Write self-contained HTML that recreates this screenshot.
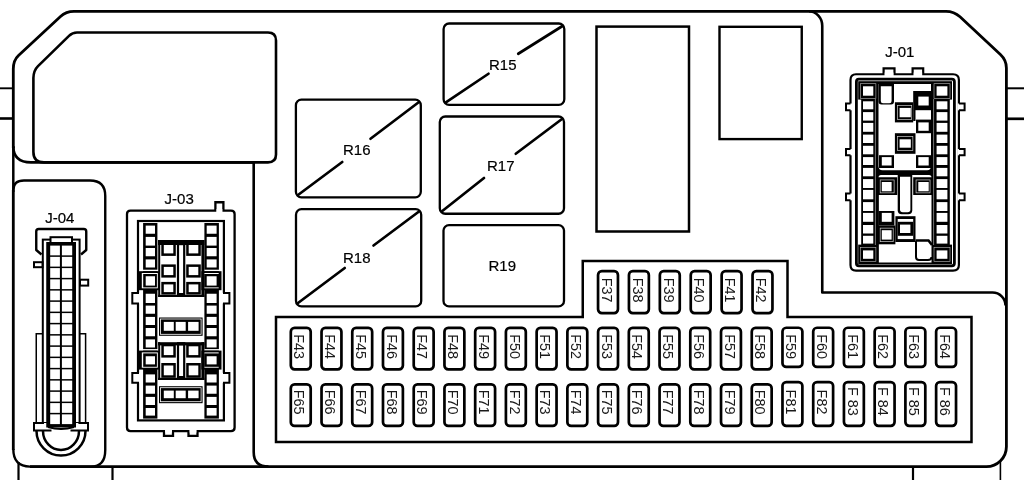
<!DOCTYPE html>
<html>
<head>
<meta charset="utf-8">
<title>Fuse box diagram</title>
<style>
html,body{margin:0;padding:0;background:#fff;}
body{width:1024px;height:480px;overflow:hidden;}
svg{display:block;will-change:transform;}
text{font-family:"Liberation Sans",sans-serif;fill:#000;stroke:#000;stroke-width:0.2px;}
text.f{font-size:15.5px;fill:#1a1a1a;stroke:none;}
</style>
</head>
<body>
<svg width="1024" height="480" viewBox="0 0 1024 480">
<rect x="0" y="0" width="1024" height="480" fill="#fff"/>
<line x1="13.30" y1="147.00" x2="13.30" y2="192.00" stroke="#000" stroke-width="2.5" stroke-linecap="butt"/>
<line x1="13.30" y1="190.00" x2="13.30" y2="450.00" stroke="#000" stroke-width="2.8" stroke-linecap="butt"/>
<path d="M13.3,148 L13.3,69 Q13.3,60.3 18.5,55.5 L60.5,16.4 Q66,11.3 74,11.3 L946,11.3 Q954,11.3 960,16.8 L1000.4,54.6 Q1006.4,60.2 1006.4,68 L1006.4,446.5 A20,20 0 0 1 986.4,466.6 L30,466.6" fill="none" stroke="#000" stroke-width="2.8" stroke-linejoin="round" stroke-linecap="butt"/>
<line x1="0.00" y1="88.30" x2="13.00" y2="88.30" stroke="#000" stroke-width="1.9" stroke-linecap="butt"/>
<line x1="0.00" y1="118.50" x2="13.00" y2="118.50" stroke="#000" stroke-width="2.6" stroke-linecap="butt"/>
<line x1="1006.50" y1="88.30" x2="1024.00" y2="88.30" stroke="#000" stroke-width="2.0" stroke-linecap="butt"/>
<line x1="1006.50" y1="118.80" x2="1024.00" y2="118.80" stroke="#000" stroke-width="2.7" stroke-linecap="butt"/>
<line x1="18.50" y1="462.00" x2="18.50" y2="480.00" stroke="#000" stroke-width="2.2" stroke-linecap="butt"/>
<line x1="112.50" y1="466.00" x2="112.50" y2="480.00" stroke="#000" stroke-width="2.2" stroke-linecap="butt"/>
<line x1="913.00" y1="466.00" x2="913.00" y2="480.00" stroke="#000" stroke-width="2.2" stroke-linecap="butt"/>
<line x1="1000.40" y1="461.00" x2="1000.40" y2="480.00" stroke="#000" stroke-width="1.6" stroke-linecap="butt"/>
<path d="M77,32.5 L268,32.5 Q276,32.5 276,40.5 L276,154.5 Q276,162.4 268,162.4 L44,162.4 Q33.4,162.4 33.4,152 L33.4,78 Q33.6,70.4 38,66.1 L69,35.9 Q72.5,32.5 77,32.5 Z" fill="none" stroke="#000" stroke-width="2.6" stroke-linejoin="round" stroke-linecap="butt"/>
<path d="M13.3,146 Q13.3,162.4 31,162.4 L253.7,162.4 L253.7,452 Q253.7,466.6 268.5,466.6" fill="none" stroke="#000" stroke-width="2.6" stroke-linejoin="round" stroke-linecap="butt"/>
<path d="M13.3,190 Q13.3,180.5 24,180.5 L90,180.5 Q105.25,180.5 105.25,196 L105.25,450 Q105.25,466.6 91,466.6 L30,466.6 Q13.3,466.6 13.3,449" fill="none" stroke="#000" stroke-width="2.4" stroke-linejoin="round" stroke-linecap="butt"/>
<path d="M809,11.3 A13.25,14.5 0 0 1 822.25,25.8 L822.25,292.5 L992.5,292.5 A13,13 0 0 1 1005.5,305.5" fill="none" stroke="#000" stroke-width="2.6" stroke-linejoin="round" stroke-linecap="butt"/>
<rect x="596.50" y="26.60" width="92.50" height="204.90" rx="0" fill="none" stroke="#000" stroke-width="2.5"/>
<rect x="719.50" y="26.80" width="82.25" height="112.30" rx="0" fill="none" stroke="#000" stroke-width="2.4"/>
<rect x="443.60" y="23.50" width="120.70" height="81.30" rx="5.5" fill="none" stroke="#000" stroke-width="2.3"/>
<line x1="445.50" y1="102.60" x2="488.50" y2="73.75" stroke="#000" stroke-width="2.7" stroke-linecap="round"/>
<line x1="518.25" y1="53.75" x2="562.50" y2="26.00" stroke="#000" stroke-width="2.7" stroke-linecap="round"/>
<text x="489.00" y="70.20" font-size="15" text-anchor="start" >R15</text>
<rect x="295.90" y="99.70" width="124.90" height="97.60" rx="5.5" fill="none" stroke="#000" stroke-width="2.3"/>
<line x1="298.00" y1="195.00" x2="342.25" y2="162.00" stroke="#000" stroke-width="2.7" stroke-linecap="round"/>
<line x1="370.50" y1="138.75" x2="419.00" y2="102.00" stroke="#000" stroke-width="2.7" stroke-linecap="round"/>
<text x="343.00" y="154.60" font-size="15" text-anchor="start" >R16</text>
<rect x="439.80" y="116.50" width="124.20" height="97.25" rx="5.5" fill="none" stroke="#000" stroke-width="2.3"/>
<line x1="442.00" y1="211.25" x2="484.00" y2="178.00" stroke="#000" stroke-width="2.7" stroke-linecap="round"/>
<line x1="515.75" y1="153.75" x2="562.00" y2="119.00" stroke="#000" stroke-width="2.7" stroke-linecap="round"/>
<text x="487.00" y="171.30" font-size="15" text-anchor="start" >R17</text>
<rect x="296.00" y="209.20" width="125.20" height="97.20" rx="5.5" fill="none" stroke="#000" stroke-width="2.3"/>
<line x1="298.00" y1="303.00" x2="344.75" y2="268.00" stroke="#000" stroke-width="2.7" stroke-linecap="round"/>
<line x1="373.50" y1="245.50" x2="419.00" y2="211.50" stroke="#000" stroke-width="2.7" stroke-linecap="round"/>
<text x="343.00" y="263.20" font-size="15" text-anchor="start" >R18</text>
<rect x="443.50" y="225.10" width="120.50" height="81.30" rx="5.5" fill="none" stroke="#000" stroke-width="2.3"/>
<text x="488.50" y="271.40" font-size="15" text-anchor="start" >R19</text>
<path d="M276,317 L582.75,317 L582.75,260.9 L787.5,260.9 L787.5,317 L971.5,317 L971.5,442.1 L276,442.1 Z" fill="none" stroke="#000" stroke-width="2.5" stroke-linejoin="miter" stroke-linecap="butt"/>
<rect x="598.05" y="271.10" width="19.90" height="42.05" rx="3.8" fill="none" stroke="#000" stroke-width="2.7"/>
<text class="f" text-anchor="middle" transform="translate(601.70,290.12) rotate(90) scale(0.93,1)">F37</text>
<rect x="628.95" y="271.10" width="19.90" height="42.05" rx="3.8" fill="none" stroke="#000" stroke-width="2.7"/>
<text class="f" text-anchor="middle" transform="translate(632.60,290.12) rotate(90) scale(0.93,1)">F38</text>
<rect x="659.85" y="271.10" width="19.90" height="42.05" rx="3.8" fill="none" stroke="#000" stroke-width="2.7"/>
<text class="f" text-anchor="middle" transform="translate(663.50,290.12) rotate(90) scale(0.93,1)">F39</text>
<rect x="690.75" y="271.10" width="19.90" height="42.05" rx="3.8" fill="none" stroke="#000" stroke-width="2.7"/>
<text class="f" text-anchor="middle" transform="translate(694.40,290.12) rotate(90) scale(0.93,1)">F40</text>
<rect x="721.65" y="271.10" width="19.90" height="42.05" rx="3.8" fill="none" stroke="#000" stroke-width="2.7"/>
<text class="f" text-anchor="middle" transform="translate(725.30,290.12) rotate(90) scale(0.93,1)">F41</text>
<rect x="752.55" y="271.10" width="19.90" height="42.05" rx="3.8" fill="none" stroke="#000" stroke-width="2.7"/>
<text class="f" text-anchor="middle" transform="translate(756.20,290.12) rotate(90) scale(0.93,1)">F42</text>
<rect x="290.80" y="327.95" width="19.90" height="41.45" rx="3.8" fill="none" stroke="#000" stroke-width="2.7"/>
<text class="f" text-anchor="middle" transform="translate(294.45,346.60) rotate(90) scale(0.93,1)">F43</text>
<rect x="321.53" y="327.95" width="19.90" height="41.45" rx="3.8" fill="none" stroke="#000" stroke-width="2.7"/>
<text class="f" text-anchor="middle" transform="translate(325.18,346.60) rotate(90) scale(0.93,1)">F44</text>
<rect x="352.26" y="327.95" width="19.90" height="41.45" rx="3.8" fill="none" stroke="#000" stroke-width="2.7"/>
<text class="f" text-anchor="middle" transform="translate(355.91,346.60) rotate(90) scale(0.93,1)">F45</text>
<rect x="382.99" y="327.95" width="19.90" height="41.45" rx="3.8" fill="none" stroke="#000" stroke-width="2.7"/>
<text class="f" text-anchor="middle" transform="translate(386.64,346.60) rotate(90) scale(0.93,1)">F46</text>
<rect x="413.72" y="327.95" width="19.90" height="41.45" rx="3.8" fill="none" stroke="#000" stroke-width="2.7"/>
<text class="f" text-anchor="middle" transform="translate(417.37,346.60) rotate(90) scale(0.93,1)">F47</text>
<rect x="444.45" y="327.95" width="19.90" height="41.45" rx="3.8" fill="none" stroke="#000" stroke-width="2.7"/>
<text class="f" text-anchor="middle" transform="translate(448.10,346.60) rotate(90) scale(0.93,1)">F48</text>
<rect x="475.18" y="327.95" width="19.90" height="41.45" rx="3.8" fill="none" stroke="#000" stroke-width="2.7"/>
<text class="f" text-anchor="middle" transform="translate(478.83,346.60) rotate(90) scale(0.93,1)">F49</text>
<rect x="505.91" y="327.95" width="19.90" height="41.45" rx="3.8" fill="none" stroke="#000" stroke-width="2.7"/>
<text class="f" text-anchor="middle" transform="translate(509.56,346.60) rotate(90) scale(0.93,1)">F50</text>
<rect x="536.64" y="327.95" width="19.90" height="41.45" rx="3.8" fill="none" stroke="#000" stroke-width="2.7"/>
<text class="f" text-anchor="middle" transform="translate(540.29,346.60) rotate(90) scale(0.93,1)">F51</text>
<rect x="567.37" y="327.95" width="19.90" height="41.45" rx="3.8" fill="none" stroke="#000" stroke-width="2.7"/>
<text class="f" text-anchor="middle" transform="translate(571.02,346.60) rotate(90) scale(0.93,1)">F52</text>
<rect x="598.10" y="327.95" width="19.90" height="41.45" rx="3.8" fill="none" stroke="#000" stroke-width="2.7"/>
<text class="f" text-anchor="middle" transform="translate(601.75,346.60) rotate(90) scale(0.93,1)">F53</text>
<rect x="628.83" y="327.95" width="19.90" height="41.45" rx="3.8" fill="none" stroke="#000" stroke-width="2.7"/>
<text class="f" text-anchor="middle" transform="translate(632.48,346.60) rotate(90) scale(0.93,1)">F54</text>
<rect x="659.56" y="327.95" width="19.90" height="41.45" rx="3.8" fill="none" stroke="#000" stroke-width="2.7"/>
<text class="f" text-anchor="middle" transform="translate(663.21,346.60) rotate(90) scale(0.93,1)">F55</text>
<rect x="690.29" y="327.95" width="19.90" height="41.45" rx="3.8" fill="none" stroke="#000" stroke-width="2.7"/>
<text class="f" text-anchor="middle" transform="translate(693.94,346.60) rotate(90) scale(0.93,1)">F56</text>
<rect x="721.02" y="327.95" width="19.90" height="41.45" rx="3.8" fill="none" stroke="#000" stroke-width="2.7"/>
<text class="f" text-anchor="middle" transform="translate(724.67,346.60) rotate(90) scale(0.93,1)">F57</text>
<rect x="751.75" y="327.95" width="19.90" height="41.45" rx="3.8" fill="none" stroke="#000" stroke-width="2.7"/>
<text class="f" text-anchor="middle" transform="translate(755.40,346.60) rotate(90) scale(0.93,1)">F58</text>
<rect x="782.48" y="327.75" width="19.90" height="39.20" rx="3.8" fill="none" stroke="#000" stroke-width="2.7"/>
<text class="f" text-anchor="middle" transform="translate(786.13,346.60) rotate(90) scale(0.93,1)">F59</text>
<rect x="813.21" y="327.75" width="19.90" height="39.20" rx="3.8" fill="none" stroke="#000" stroke-width="2.7"/>
<text class="f" text-anchor="middle" transform="translate(816.86,346.60) rotate(90) scale(0.93,1)">F60</text>
<rect x="843.94" y="327.75" width="19.90" height="39.20" rx="3.8" fill="none" stroke="#000" stroke-width="2.7"/>
<text class="f" text-anchor="middle" transform="translate(847.59,346.60) rotate(90) scale(0.93,1)">F61</text>
<rect x="874.67" y="327.75" width="19.90" height="39.20" rx="3.8" fill="none" stroke="#000" stroke-width="2.7"/>
<text class="f" text-anchor="middle" transform="translate(878.32,346.60) rotate(90) scale(0.93,1)">F62</text>
<rect x="905.40" y="327.75" width="19.90" height="39.20" rx="3.8" fill="none" stroke="#000" stroke-width="2.7"/>
<text class="f" text-anchor="middle" transform="translate(909.05,346.60) rotate(90) scale(0.93,1)">F63</text>
<rect x="936.13" y="327.75" width="19.90" height="39.20" rx="3.8" fill="none" stroke="#000" stroke-width="2.7"/>
<text class="f" text-anchor="middle" transform="translate(939.78,346.60) rotate(90) scale(0.93,1)">F64</text>
<rect x="290.80" y="384.35" width="19.90" height="41.60" rx="3.8" fill="none" stroke="#000" stroke-width="2.7"/>
<text class="f" text-anchor="middle" transform="translate(294.45,402.20) rotate(90) scale(0.93,1)">F65</text>
<rect x="321.53" y="384.35" width="19.90" height="41.60" rx="3.8" fill="none" stroke="#000" stroke-width="2.7"/>
<text class="f" text-anchor="middle" transform="translate(325.18,402.20) rotate(90) scale(0.93,1)">F66</text>
<rect x="352.26" y="384.35" width="19.90" height="41.60" rx="3.8" fill="none" stroke="#000" stroke-width="2.7"/>
<text class="f" text-anchor="middle" transform="translate(355.91,402.20) rotate(90) scale(0.93,1)">F67</text>
<rect x="382.99" y="384.35" width="19.90" height="41.60" rx="3.8" fill="none" stroke="#000" stroke-width="2.7"/>
<text class="f" text-anchor="middle" transform="translate(386.64,402.20) rotate(90) scale(0.93,1)">F68</text>
<rect x="413.72" y="384.35" width="19.90" height="41.60" rx="3.8" fill="none" stroke="#000" stroke-width="2.7"/>
<text class="f" text-anchor="middle" transform="translate(417.37,402.20) rotate(90) scale(0.93,1)">F69</text>
<rect x="444.45" y="384.35" width="19.90" height="41.60" rx="3.8" fill="none" stroke="#000" stroke-width="2.7"/>
<text class="f" text-anchor="middle" transform="translate(448.10,402.20) rotate(90) scale(0.93,1)">F70</text>
<rect x="475.18" y="384.35" width="19.90" height="41.60" rx="3.8" fill="none" stroke="#000" stroke-width="2.7"/>
<text class="f" text-anchor="middle" transform="translate(478.83,402.20) rotate(90) scale(0.93,1)">F71</text>
<rect x="505.91" y="384.35" width="19.90" height="41.60" rx="3.8" fill="none" stroke="#000" stroke-width="2.7"/>
<text class="f" text-anchor="middle" transform="translate(509.56,402.20) rotate(90) scale(0.93,1)">F72</text>
<rect x="536.64" y="384.35" width="19.90" height="41.60" rx="3.8" fill="none" stroke="#000" stroke-width="2.7"/>
<text class="f" text-anchor="middle" transform="translate(540.29,402.20) rotate(90) scale(0.93,1)">F73</text>
<rect x="567.37" y="384.35" width="19.90" height="41.60" rx="3.8" fill="none" stroke="#000" stroke-width="2.7"/>
<text class="f" text-anchor="middle" transform="translate(571.02,402.20) rotate(90) scale(0.93,1)">F74</text>
<rect x="598.10" y="384.35" width="19.90" height="41.60" rx="3.8" fill="none" stroke="#000" stroke-width="2.7"/>
<text class="f" text-anchor="middle" transform="translate(601.75,402.20) rotate(90) scale(0.93,1)">F75</text>
<rect x="628.83" y="384.35" width="19.90" height="41.60" rx="3.8" fill="none" stroke="#000" stroke-width="2.7"/>
<text class="f" text-anchor="middle" transform="translate(632.48,402.20) rotate(90) scale(0.93,1)">F76</text>
<rect x="659.56" y="384.35" width="19.90" height="41.60" rx="3.8" fill="none" stroke="#000" stroke-width="2.7"/>
<text class="f" text-anchor="middle" transform="translate(663.21,402.20) rotate(90) scale(0.93,1)">F77</text>
<rect x="690.29" y="384.35" width="19.90" height="41.60" rx="3.8" fill="none" stroke="#000" stroke-width="2.7"/>
<text class="f" text-anchor="middle" transform="translate(693.94,402.20) rotate(90) scale(0.93,1)">F78</text>
<rect x="721.02" y="384.35" width="19.90" height="41.60" rx="3.8" fill="none" stroke="#000" stroke-width="2.7"/>
<text class="f" text-anchor="middle" transform="translate(724.67,402.20) rotate(90) scale(0.93,1)">F79</text>
<rect x="751.75" y="384.35" width="19.90" height="41.60" rx="3.8" fill="none" stroke="#000" stroke-width="2.7"/>
<text class="f" text-anchor="middle" transform="translate(755.40,402.20) rotate(90) scale(0.93,1)">F80</text>
<rect x="782.48" y="382.05" width="19.90" height="43.80" rx="3.8" fill="none" stroke="#000" stroke-width="2.7"/>
<text class="f" text-anchor="middle" transform="translate(786.13,402.00) rotate(90) scale(0.93,1)">F81</text>
<rect x="813.21" y="382.05" width="19.90" height="43.80" rx="3.8" fill="none" stroke="#000" stroke-width="2.7"/>
<text class="f" text-anchor="middle" transform="translate(816.86,402.00) rotate(90) scale(0.93,1)">F82</text>
<rect x="843.94" y="382.05" width="19.90" height="43.80" rx="3.8" fill="none" stroke="#000" stroke-width="2.7"/>
<text class="f" text-anchor="middle" transform="translate(847.59,401.40) rotate(90) scale(0.93,1)">F<tspan dx="4.3">83</tspan></text>
<rect x="874.67" y="382.05" width="19.90" height="43.80" rx="3.8" fill="none" stroke="#000" stroke-width="2.7"/>
<text class="f" text-anchor="middle" transform="translate(878.32,401.40) rotate(90) scale(0.93,1)">F<tspan dx="4.3">84</tspan></text>
<rect x="905.40" y="382.05" width="19.90" height="43.80" rx="3.8" fill="none" stroke="#000" stroke-width="2.7"/>
<text class="f" text-anchor="middle" transform="translate(909.05,401.40) rotate(90) scale(0.93,1)">F<tspan dx="4.3">85</tspan></text>
<rect x="936.13" y="382.05" width="19.90" height="43.80" rx="3.8" fill="none" stroke="#000" stroke-width="2.7"/>
<text class="f" text-anchor="middle" transform="translate(939.78,401.40) rotate(90) scale(0.93,1)">F<tspan dx="4.3">86</tspan></text>
<text x="45.20" y="223.20" font-size="15" text-anchor="start" >J-04</text>
<text x="164.60" y="203.80" font-size="15" text-anchor="start" >J-03</text>
<text x="885.20" y="57.00" font-size="15" text-anchor="start" >J-01</text>
<path d="M41.5,254.5 L36.25,250 L36.25,231.5 Q36.25,229 38.75,229 L83.75,229 Q86.25,229 86.25,231.5 L86.25,250 L81,254.5" fill="none" stroke="#000" stroke-width="2.4" stroke-linejoin="round" stroke-linecap="butt"/>
<path d="M42,333.75 L36.25,333.75 L36.25,423" fill="none" stroke="#000" stroke-width="1.5" stroke-linejoin="miter" stroke-linecap="butt"/>
<path d="M80,333.75 L85.6,333.75 L85.6,423" fill="none" stroke="#000" stroke-width="1.5" stroke-linejoin="miter" stroke-linecap="butt"/>
<path d="M36.5,431 A24.5,24.5 0 0 0 85.5,431" fill="none" stroke="#000" stroke-width="2.5" stroke-linejoin="round" stroke-linecap="butt"/>
<path d="M43,431 A18,19 0 0 0 79,431" fill="none" stroke="#000" stroke-width="2.5" stroke-linejoin="round" stroke-linecap="butt"/>
<rect x="34.00" y="423.00" width="54.00" height="7.50" rx="0" fill="#fff" stroke="#000" stroke-width="2"/>
<rect x="51.50" y="426.00" width="19.00" height="6.00" rx="0" fill="#fff"/>
<rect x="42.80" y="239.60" width="36.80" height="183.40" rx="0" fill="#fff" stroke="#000" stroke-width="2"/>
<rect x="44.00" y="423.00" width="34.40" height="1.50" rx="0" fill="#fff"/>
<rect x="50.50" y="237.20" width="21.50" height="5.80" rx="0" fill="#fff" stroke="#000" stroke-width="2"/>
<rect x="34.00" y="262.20" width="8.50" height="5.00" rx="0" fill="#fff" stroke="#000" stroke-width="2"/>
<rect x="80.00" y="279.70" width="8.20" height="5.90" rx="0" fill="#fff" stroke="#000" stroke-width="2"/>
<rect x="46.25" y="242.00" width="29.75" height="185.50" rx="0" fill="#000"/>
<path d="M48,427 Q61,431 74,427" fill="none" stroke="#000" stroke-width="2" stroke-linejoin="round" stroke-linecap="butt"/>
<rect x="50.20" y="245.60" width="9.70" height="9.75" rx="0" fill="#fff"/>
<rect x="61.90" y="245.60" width="10.30" height="9.75" rx="0" fill="#fff"/>
<rect x="50.20" y="256.85" width="9.70" height="9.75" rx="0" fill="#fff"/>
<rect x="61.90" y="256.85" width="10.30" height="9.75" rx="0" fill="#fff"/>
<rect x="50.20" y="268.10" width="9.70" height="9.75" rx="0" fill="#fff"/>
<rect x="61.90" y="268.10" width="10.30" height="9.75" rx="0" fill="#fff"/>
<rect x="50.20" y="279.35" width="9.70" height="9.75" rx="0" fill="#fff"/>
<rect x="61.90" y="279.35" width="10.30" height="9.75" rx="0" fill="#fff"/>
<rect x="50.20" y="290.60" width="9.70" height="9.75" rx="0" fill="#fff"/>
<rect x="61.90" y="290.60" width="10.30" height="9.75" rx="0" fill="#fff"/>
<rect x="50.20" y="301.85" width="9.70" height="9.75" rx="0" fill="#fff"/>
<rect x="61.90" y="301.85" width="10.30" height="9.75" rx="0" fill="#fff"/>
<rect x="50.20" y="313.10" width="9.70" height="9.75" rx="0" fill="#fff"/>
<rect x="61.90" y="313.10" width="10.30" height="9.75" rx="0" fill="#fff"/>
<rect x="50.20" y="324.35" width="9.70" height="9.75" rx="0" fill="#fff"/>
<rect x="61.90" y="324.35" width="10.30" height="9.75" rx="0" fill="#fff"/>
<rect x="50.20" y="335.60" width="9.70" height="9.75" rx="0" fill="#fff"/>
<rect x="61.90" y="335.60" width="10.30" height="9.75" rx="0" fill="#fff"/>
<rect x="50.20" y="346.85" width="9.70" height="9.75" rx="0" fill="#fff"/>
<rect x="61.90" y="346.85" width="10.30" height="9.75" rx="0" fill="#fff"/>
<rect x="50.20" y="358.10" width="9.70" height="9.75" rx="0" fill="#fff"/>
<rect x="61.90" y="358.10" width="10.30" height="9.75" rx="0" fill="#fff"/>
<rect x="50.20" y="369.35" width="9.70" height="9.75" rx="0" fill="#fff"/>
<rect x="61.90" y="369.35" width="10.30" height="9.75" rx="0" fill="#fff"/>
<rect x="50.20" y="380.60" width="9.70" height="9.75" rx="0" fill="#fff"/>
<rect x="61.90" y="380.60" width="10.30" height="9.75" rx="0" fill="#fff"/>
<rect x="50.20" y="391.85" width="9.70" height="9.75" rx="0" fill="#fff"/>
<rect x="61.90" y="391.85" width="10.30" height="9.75" rx="0" fill="#fff"/>
<rect x="50.20" y="403.10" width="9.70" height="9.75" rx="0" fill="#fff"/>
<rect x="61.90" y="403.10" width="10.30" height="9.75" rx="0" fill="#fff"/>
<rect x="50.20" y="414.35" width="9.70" height="9.75" rx="0" fill="#fff"/>
<rect x="61.90" y="414.35" width="10.30" height="9.75" rx="0" fill="#fff"/>
<path d="M127,214 Q127,210.6 130.5,210.6 L215.4,210.6 L215.4,202.25 L223.4,202.25 L223.4,210.6 L231,210.6 Q234.6,210.6 234.6,214 L234.6,427.6 Q234.6,431.2 231,431.2 L197.5,431.2 L197.5,435.8 L188.5,435.8 L188.5,431.2 L173,431.2 L173,435.8 L164,435.8 L164,431.2 L130.5,431.2 Q127,431.2 127,427.6 Z" fill="#fff" stroke="#000" stroke-width="2.3" stroke-linejoin="miter" stroke-linecap="butt"/>
<rect x="216.50" y="209.00" width="5.80" height="3.50" rx="0" fill="#fff"/>
<rect x="165.15" y="429.60" width="6.70" height="3.00" rx="0" fill="#fff"/>
<rect x="189.65" y="429.60" width="6.70" height="3.00" rx="0" fill="#fff"/>
<rect x="138.00" y="221.00" width="85.90" height="199.40" rx="0" fill="none" stroke="#000" stroke-width="2.2"/>
<rect x="133.00" y="292.90" width="7.00" height="10.50" rx="0" fill="#fff"/>
<path d="M139,292.9 L132.3,292.9 L132.3,303.4 L139,303.4" fill="none" stroke="#000" stroke-width="2" stroke-linejoin="miter" stroke-linecap="butt"/>
<rect x="222.00" y="292.90" width="7.00" height="10.50" rx="0" fill="#fff"/>
<path d="M223,292.9 L229.4,292.9 L229.4,303.4 L223,303.4" fill="none" stroke="#000" stroke-width="2" stroke-linejoin="miter" stroke-linecap="butt"/>
<rect x="133.00" y="372.90" width="7.00" height="9.90" rx="0" fill="#fff"/>
<path d="M139,372.9 L132.3,372.9 L132.3,382.8 L139,382.8" fill="none" stroke="#000" stroke-width="2" stroke-linejoin="miter" stroke-linecap="butt"/>
<rect x="222.00" y="372.90" width="7.00" height="9.90" rx="0" fill="#fff"/>
<path d="M223,372.9 L229.4,372.9 L229.4,382.8 L223,382.8" fill="none" stroke="#000" stroke-width="2" stroke-linejoin="miter" stroke-linecap="butt"/>
<rect x="143.10" y="223.00" width="14.30" height="195.60" rx="0" fill="#000"/>
<rect x="141.80" y="269.70" width="17.80" height="1.50" rx="0" fill="#fff"/>
<rect x="137.20" y="271.20" width="22.40" height="19.00" rx="0" fill="#000"/>
<rect x="141.80" y="273.00" width="16.00" height="15.30" rx="0" fill="#fff"/>
<rect x="143.20" y="274.00" width="13.70" height="13.40" rx="0" fill="#000"/>
<rect x="141.80" y="349.10" width="17.80" height="1.50" rx="0" fill="#fff"/>
<rect x="137.20" y="350.60" width="22.40" height="19.00" rx="0" fill="#000"/>
<rect x="141.80" y="352.40" width="16.00" height="15.30" rx="0" fill="#fff"/>
<rect x="143.20" y="353.40" width="13.70" height="13.40" rx="0" fill="#000"/>
<rect x="145.70" y="225.60" width="9.30" height="8.15" rx="0" fill="#fff"/>
<rect x="145.70" y="236.90" width="9.30" height="8.70" rx="0" fill="#fff"/>
<rect x="145.70" y="248.00" width="9.30" height="8.25" rx="0" fill="#fff"/>
<rect x="145.70" y="259.40" width="9.30" height="8.10" rx="0" fill="#fff"/>
<rect x="145.70" y="276.25" width="9.30" height="9.35" rx="0" fill="#fff"/>
<rect x="145.70" y="293.75" width="9.30" height="9.25" rx="0" fill="#fff"/>
<rect x="145.70" y="305.60" width="9.30" height="8.15" rx="0" fill="#fff"/>
<rect x="145.70" y="316.90" width="9.30" height="8.10" rx="0" fill="#fff"/>
<rect x="145.70" y="328.00" width="9.30" height="8.25" rx="0" fill="#fff"/>
<rect x="145.70" y="339.40" width="9.30" height="8.10" rx="0" fill="#fff"/>
<rect x="145.70" y="356.25" width="9.30" height="8.15" rx="0" fill="#fff"/>
<rect x="145.70" y="374.40" width="9.30" height="8.10" rx="0" fill="#fff"/>
<rect x="145.70" y="385.60" width="9.30" height="8.15" rx="0" fill="#fff"/>
<rect x="145.70" y="396.90" width="9.30" height="8.10" rx="0" fill="#fff"/>
<rect x="145.70" y="408.00" width="9.30" height="7.60" rx="0" fill="#fff"/>
<rect x="204.40" y="223.00" width="14.50" height="195.60" rx="0" fill="#000"/>
<rect x="201.40" y="269.70" width="17.80" height="1.50" rx="0" fill="#fff"/>
<rect x="201.40" y="271.20" width="20.10" height="19.00" rx="0" fill="#000"/>
<rect x="203.20" y="273.00" width="15.50" height="15.30" rx="0" fill="#fff"/>
<rect x="204.20" y="274.00" width="15.00" height="13.40" rx="0" fill="#000"/>
<rect x="201.40" y="349.10" width="17.80" height="1.50" rx="0" fill="#fff"/>
<rect x="201.40" y="350.60" width="20.10" height="19.00" rx="0" fill="#000"/>
<rect x="203.20" y="352.40" width="15.50" height="15.30" rx="0" fill="#fff"/>
<rect x="204.20" y="353.40" width="15.00" height="13.40" rx="0" fill="#000"/>
<rect x="206.70" y="225.60" width="9.90" height="8.15" rx="0" fill="#fff"/>
<rect x="206.70" y="236.90" width="9.90" height="8.70" rx="0" fill="#fff"/>
<rect x="206.70" y="248.00" width="9.90" height="8.25" rx="0" fill="#fff"/>
<rect x="206.70" y="259.40" width="9.90" height="8.10" rx="0" fill="#fff"/>
<rect x="206.70" y="276.25" width="9.90" height="9.35" rx="0" fill="#fff"/>
<rect x="206.70" y="293.75" width="9.90" height="9.25" rx="0" fill="#fff"/>
<rect x="206.70" y="305.60" width="9.90" height="8.15" rx="0" fill="#fff"/>
<rect x="206.70" y="316.90" width="9.90" height="8.10" rx="0" fill="#fff"/>
<rect x="206.70" y="328.00" width="9.90" height="8.25" rx="0" fill="#fff"/>
<rect x="206.70" y="339.40" width="9.90" height="8.10" rx="0" fill="#fff"/>
<rect x="206.70" y="356.25" width="9.90" height="8.15" rx="0" fill="#fff"/>
<rect x="206.70" y="374.40" width="9.90" height="8.10" rx="0" fill="#fff"/>
<rect x="206.70" y="385.60" width="9.90" height="8.15" rx="0" fill="#fff"/>
<rect x="206.70" y="396.90" width="9.90" height="8.10" rx="0" fill="#fff"/>
<rect x="206.70" y="408.00" width="9.90" height="7.60" rx="0" fill="#fff"/>
<rect x="158.00" y="240.00" width="46.40" height="5.00" rx="0" fill="#000"/>
<rect x="158.20" y="240.00" width="2.00" height="57.00" rx="0" fill="#000"/>
<rect x="201.40" y="240.00" width="3.00" height="57.00" rx="0" fill="#000"/>
<rect x="158.20" y="294.80" width="46.20" height="2.20" rx="0" fill="#000"/>
<rect x="161.30" y="242.50" width="14.50" height="13.40" rx="0" fill="#000"/>
<rect x="163.80" y="245.00" width="9.50" height="8.40" rx="0" fill="#fff"/>
<rect x="186.20" y="242.50" width="14.60" height="13.40" rx="0" fill="#000"/>
<rect x="188.70" y="245.00" width="9.60" height="8.40" rx="0" fill="#fff"/>
<rect x="161.30" y="264.40" width="14.50" height="13.20" rx="0" fill="#000"/>
<rect x="163.80" y="266.90" width="9.50" height="8.20" rx="0" fill="#fff"/>
<rect x="186.20" y="264.40" width="14.60" height="13.20" rx="0" fill="#000"/>
<rect x="188.70" y="266.90" width="9.60" height="8.20" rx="0" fill="#fff"/>
<rect x="161.30" y="281.90" width="14.50" height="12.70" rx="0" fill="#000"/>
<rect x="163.80" y="284.40" width="9.50" height="7.70" rx="0" fill="#fff"/>
<rect x="186.20" y="281.90" width="14.60" height="12.70" rx="0" fill="#000"/>
<rect x="188.70" y="284.40" width="9.60" height="7.70" rx="0" fill="#fff"/>
<rect x="176.90" y="240.00" width="8.40" height="55.50" rx="0" fill="#000"/>
<rect x="179.10" y="245.20" width="4.00" height="47.80" rx="0" fill="#fff"/>
<rect x="159.00" y="317.50" width="43.60" height="18.30" rx="0" fill="#000"/>
<rect x="160.5" y="319.00" width="40.6" height="15.30" fill="none" stroke="#fff" stroke-width="0.8"/>
<rect x="163.80" y="321.90" width="10.00" height="8.90" rx="0" fill="#fff"/>
<rect x="175.70" y="321.90" width="10.00" height="8.90" rx="0" fill="#fff"/>
<rect x="188.10" y="321.90" width="10.50" height="8.90" rx="0" fill="#fff"/>
<rect x="158.00" y="342.20" width="46.40" height="3.20" rx="0" fill="#000"/>
<rect x="158.20" y="342.20" width="2.00" height="37.80" rx="0" fill="#000"/>
<rect x="201.40" y="342.20" width="3.00" height="37.80" rx="0" fill="#000"/>
<rect x="158.20" y="377.80" width="46.20" height="2.20" rx="0" fill="#000"/>
<rect x="161.30" y="343.80" width="14.50" height="13.80" rx="0" fill="#000"/>
<rect x="163.80" y="346.30" width="9.50" height="8.80" rx="0" fill="#fff"/>
<rect x="186.20" y="343.80" width="14.60" height="13.80" rx="0" fill="#000"/>
<rect x="188.70" y="346.30" width="9.60" height="8.80" rx="0" fill="#fff"/>
<rect x="161.30" y="363.00" width="14.50" height="14.80" rx="0" fill="#000"/>
<rect x="163.80" y="365.50" width="9.50" height="9.80" rx="0" fill="#fff"/>
<rect x="186.20" y="363.00" width="14.60" height="14.80" rx="0" fill="#000"/>
<rect x="188.70" y="365.50" width="9.60" height="9.80" rx="0" fill="#fff"/>
<rect x="176.90" y="342.20" width="8.40" height="36.30" rx="0" fill="#000"/>
<rect x="179.10" y="345.60" width="4.00" height="30.40" rx="0" fill="#fff"/>
<rect x="159.00" y="386.20" width="43.60" height="17.00" rx="0" fill="#000"/>
<rect x="160.5" y="387.70" width="40.6" height="14.00" fill="none" stroke="#fff" stroke-width="0.8"/>
<rect x="163.80" y="390.60" width="10.00" height="7.60" rx="0" fill="#fff"/>
<rect x="175.70" y="390.60" width="10.00" height="7.60" rx="0" fill="#fff"/>
<rect x="188.10" y="390.60" width="10.50" height="7.60" rx="0" fill="#fff"/>
<path d="M850.5,80 Q850.5,74.25 856,74.25 L883.6,74.25 L883.6,68.4 L894.5,68.4 L894.5,74.25 L912.6,74.25 L912.6,68.4 L923.2,68.4 L923.2,74.25 L953,74.25 Q958.9,74.25 958.9,80 L958.9,265 Q958.9,270.6 953,270.6 L856,270.6 Q850.5,270.6 850.5,265 Z" fill="#fff" stroke="#000" stroke-width="2.2" stroke-linejoin="miter" stroke-linecap="butt"/>
<rect x="884.70" y="72.50" width="8.70" height="3.50" rx="0" fill="#fff"/>
<rect x="913.70" y="72.50" width="8.40" height="3.50" rx="0" fill="#fff"/>
<rect x="847.00" y="103.50" width="5.00" height="6.80" rx="0" fill="#fff"/>
<path d="M850.5,103.5 L846,103.5 L846,110.3 L850.5,110.3" fill="none" stroke="#000" stroke-width="2" stroke-linejoin="miter" stroke-linecap="butt"/>
<rect x="957.50" y="103.50" width="6.00" height="6.80" rx="0" fill="#fff"/>
<path d="M958.9,103.5 L964.6,103.5 L964.6,110.3 L958.9,110.3" fill="none" stroke="#000" stroke-width="2" stroke-linejoin="miter" stroke-linecap="butt"/>
<rect x="847.00" y="149.00" width="5.00" height="6.30" rx="0" fill="#fff"/>
<path d="M850.5,149 L846,149 L846,155.3 L850.5,155.3" fill="none" stroke="#000" stroke-width="2" stroke-linejoin="miter" stroke-linecap="butt"/>
<rect x="957.50" y="149.00" width="6.00" height="6.30" rx="0" fill="#fff"/>
<path d="M958.9,149 L964.6,149 L964.6,155.3 L958.9,155.3" fill="none" stroke="#000" stroke-width="2" stroke-linejoin="miter" stroke-linecap="butt"/>
<rect x="847.00" y="193.50" width="5.00" height="6.80" rx="0" fill="#fff"/>
<path d="M850.5,193.5 L846,193.5 L846,200.3 L850.5,200.3" fill="none" stroke="#000" stroke-width="2" stroke-linejoin="miter" stroke-linecap="butt"/>
<rect x="957.50" y="193.50" width="6.00" height="6.80" rx="0" fill="#fff"/>
<path d="M958.9,193.5 L964.6,193.5 L964.6,200.3 L958.9,200.3" fill="none" stroke="#000" stroke-width="2" stroke-linejoin="miter" stroke-linecap="butt"/>
<rect x="856.40" y="79.20" width="98.00" height="186.60" rx="2.5" fill="none" stroke="#000" stroke-width="2.8"/>
<rect x="858.20" y="81.20" width="93.80" height="183.00" rx="0" fill="#000"/>
<rect x="858.00" y="99.60" width="3.20" height="145.00" rx="0" fill="#fff"/>
<rect x="949.80" y="99.60" width="2.60" height="145.00" rx="0" fill="#fff"/>
<rect x="863.00" y="101.30" width="10.30" height="8.00" rx="0" fill="#fff"/>
<rect x="936.60" y="101.30" width="10.80" height="8.00" rx="0" fill="#fff"/>
<rect x="863.00" y="112.10" width="10.30" height="8.50" rx="0" fill="#fff"/>
<rect x="936.60" y="112.10" width="10.80" height="8.50" rx="0" fill="#fff"/>
<rect x="863.00" y="122.90" width="10.30" height="8.90" rx="0" fill="#fff"/>
<rect x="936.60" y="122.90" width="10.80" height="8.90" rx="0" fill="#fff"/>
<rect x="863.00" y="134.60" width="10.30" height="8.40" rx="0" fill="#fff"/>
<rect x="936.60" y="134.60" width="10.80" height="8.40" rx="0" fill="#fff"/>
<rect x="863.00" y="145.80" width="10.30" height="8.50" rx="0" fill="#fff"/>
<rect x="936.60" y="145.80" width="10.80" height="8.50" rx="0" fill="#fff"/>
<rect x="863.00" y="157.10" width="10.30" height="7.90" rx="0" fill="#fff"/>
<rect x="936.60" y="157.10" width="10.80" height="7.90" rx="0" fill="#fff"/>
<rect x="863.00" y="167.90" width="10.30" height="8.40" rx="0" fill="#fff"/>
<rect x="936.60" y="167.90" width="10.80" height="8.40" rx="0" fill="#fff"/>
<rect x="863.00" y="179.10" width="10.30" height="8.90" rx="0" fill="#fff"/>
<rect x="936.60" y="179.10" width="10.80" height="8.90" rx="0" fill="#fff"/>
<rect x="863.00" y="189.90" width="10.30" height="9.40" rx="0" fill="#fff"/>
<rect x="936.60" y="189.90" width="10.80" height="9.40" rx="0" fill="#fff"/>
<rect x="863.00" y="202.10" width="10.30" height="8.90" rx="0" fill="#fff"/>
<rect x="936.60" y="202.10" width="10.80" height="8.90" rx="0" fill="#fff"/>
<rect x="863.00" y="212.90" width="10.30" height="8.90" rx="0" fill="#fff"/>
<rect x="936.60" y="212.90" width="10.80" height="8.90" rx="0" fill="#fff"/>
<rect x="863.00" y="225.00" width="10.30" height="8.50" rx="0" fill="#fff"/>
<rect x="936.60" y="225.00" width="10.80" height="8.50" rx="0" fill="#fff"/>
<rect x="863.00" y="235.80" width="10.30" height="7.80" rx="0" fill="#fff"/>
<rect x="936.60" y="235.80" width="10.80" height="7.80" rx="0" fill="#fff"/>
<line x1="875.40" y1="99.00" x2="875.40" y2="245.00" stroke="#000" stroke-width="0.6" stroke-linecap="butt"/>
<line x1="875.4" y1="99" x2="875.4" y2="245" stroke="#aaa" stroke-width="0.7"/>
<line x1="933.6" y1="99" x2="933.6" y2="245" stroke="#aaa" stroke-width="0.7"/>
<rect x="863.00" y="86.30" width="10.30" height="9.40" rx="0" fill="#fff"/>
<rect x="863.00" y="250.40" width="10.30" height="8.40" rx="0" fill="#fff"/>
<rect x="860.40" y="83.7" width="15.50" height="14.6" fill="none" stroke="#bbb" stroke-width="0.6"/>
<rect x="860.40" y="247.6" width="15.50" height="14" fill="none" stroke="#bbb" stroke-width="0.6"/>
<rect x="936.60" y="86.30" width="10.80" height="9.40" rx="0" fill="#fff"/>
<rect x="936.60" y="250.40" width="10.80" height="8.40" rx="0" fill="#fff"/>
<rect x="934.00" y="83.7" width="16.00" height="14.6" fill="none" stroke="#bbb" stroke-width="0.6"/>
<rect x="934.00" y="247.6" width="16.00" height="14" fill="none" stroke="#bbb" stroke-width="0.6"/>
<path d="M878.5,84 L931,84 L931,166 Q931,170.2 927,170.2 L882.5,170.2 Q878.5,170.2 878.5,166 Z" fill="#fff"/>
<path d="M878.5,84 L894,84 L894,101.6 Q894,104.6 891,104.6 L881.5,104.6 Q878.5,104.6 878.5,101.6 Z" fill="#000"/>
<path d="M880.8,86.3 L891.6,86.3 L891.6,101 Q891.6,103.2 889.4,103.2 L883,103.2 Q880.8,103.2 880.8,101 Z" fill="#fff"/>
<rect x="913.20" y="91.00" width="17.80" height="19.20" rx="0" fill="#000"/>
<rect x="918.30" y="96.60" width="10.40" height="8.90" rx="0" fill="#fff"/>
<rect x="894.90" y="102.25" width="18.30" height="20.15" rx="0" fill="#000"/>
<rect x="897.55" y="105.38" width="14.15" height="14.15" fill="none" stroke="#ccc" stroke-width="0.7"/>
<rect x="899.60" y="107.90" width="11.20" height="9.35" rx="0" fill="#fff"/>
<rect x="913.20" y="110.00" width="2.30" height="11.00" rx="0" fill="#000"/>
<rect x="916.00" y="119.60" width="15.00" height="13.60" rx="0" fill="#000"/>
<rect x="918.30" y="122.40" width="10.40" height="8.40" rx="0" fill="#fff"/>
<rect x="894.90" y="133.20" width="20.60" height="20.60" rx="0" fill="#000"/>
<rect x="897.55" y="136.55" width="15.30" height="13.90" fill="none" stroke="#ccc" stroke-width="0.7"/>
<rect x="899.60" y="139.30" width="11.20" height="8.40" rx="0" fill="#fff"/>
<rect x="879.00" y="155.20" width="15.00" height="12.80" rx="0" fill="#000"/>
<rect x="881.80" y="157.10" width="9.80" height="8.40" rx="0" fill="#fff"/>
<rect x="916.00" y="155.20" width="15.00" height="12.80" rx="0" fill="#000"/>
<rect x="918.30" y="157.10" width="10.40" height="8.40" rx="0" fill="#fff"/>
<path d="M878.5,177.4 Q878.5,174.9 881,174.9 L929,174.9 Q931.5,174.9 931.5,177.4 L931.5,262.4 L878.5,262.4 Z" fill="#fff"/>
<rect x="878.00" y="177.25" width="19.25" height="17.75" rx="0" fill="#000"/>
<rect x="880.20" y="179.93" width="13.92" height="12.93" fill="none" stroke="#ccc" stroke-width="0.7"/>
<rect x="881.80" y="182.00" width="9.80" height="9.30" rx="0" fill="#fff"/>
<rect x="913.20" y="177.25" width="18.80" height="17.75" rx="0" fill="#000"/>
<rect x="916.05" y="179.93" width="14.00" height="12.93" fill="none" stroke="#ccc" stroke-width="0.7"/>
<rect x="918.30" y="182.00" width="10.40" height="9.30" rx="0" fill="#fff"/>
<path d="M897.7,175 L912.25,175 L912.25,210.3 Q912.25,214.3 908.25,214.3 L901.7,214.3 Q897.7,214.3 897.7,210.3 Z" fill="#000"/>
<path d="M900,176.8 L910.4,176.8 L910.4,209.5 Q910.4,212.3 907.6,212.3 L902.8,212.3 Q900,212.3 900,209.5 Z" fill="#fff"/>
<rect x="878.50" y="211.00" width="15.90" height="14.50" rx="0" fill="#000"/>
<rect x="881.80" y="212.90" width="9.80" height="8.90" rx="0" fill="#fff"/>
<rect x="895.40" y="216.20" width="20.10" height="25.80" rx="0" fill="#000"/>
<rect x="897.70" y="219.00" width="15.50" height="20.10" rx="0" fill="#fff"/>
<rect x="897.70" y="221.80" width="15.50" height="14.00" rx="0" fill="#000"/>
<rect x="900.00" y="224.60" width="10.40" height="8.40" rx="0" fill="#fff"/>
<rect x="878.00" y="225.50" width="17.40" height="18.80" rx="0" fill="#000"/>
<rect x="880.20" y="228.15" width="13.00" height="13.50" fill="none" stroke="#ccc" stroke-width="0.7"/>
<rect x="881.80" y="230.20" width="9.80" height="9.40" rx="0" fill="#fff"/>
<path d="M915.5,240.5 L928.5,240.5 L932,245" fill="none" stroke="#000" stroke-width="2.6" stroke-linejoin="miter" stroke-linecap="butt"/>
<path d="M916,241 L916,257 Q916,260 919,260 L928,260 Q931.5,260 931.5,257" fill="none" stroke="#000" stroke-width="2" stroke-linejoin="round" stroke-linecap="butt"/>
<rect x="877.00" y="195.00" width="1.70" height="68.00" rx="0" fill="#000"/>
</svg>
</body>
</html>
